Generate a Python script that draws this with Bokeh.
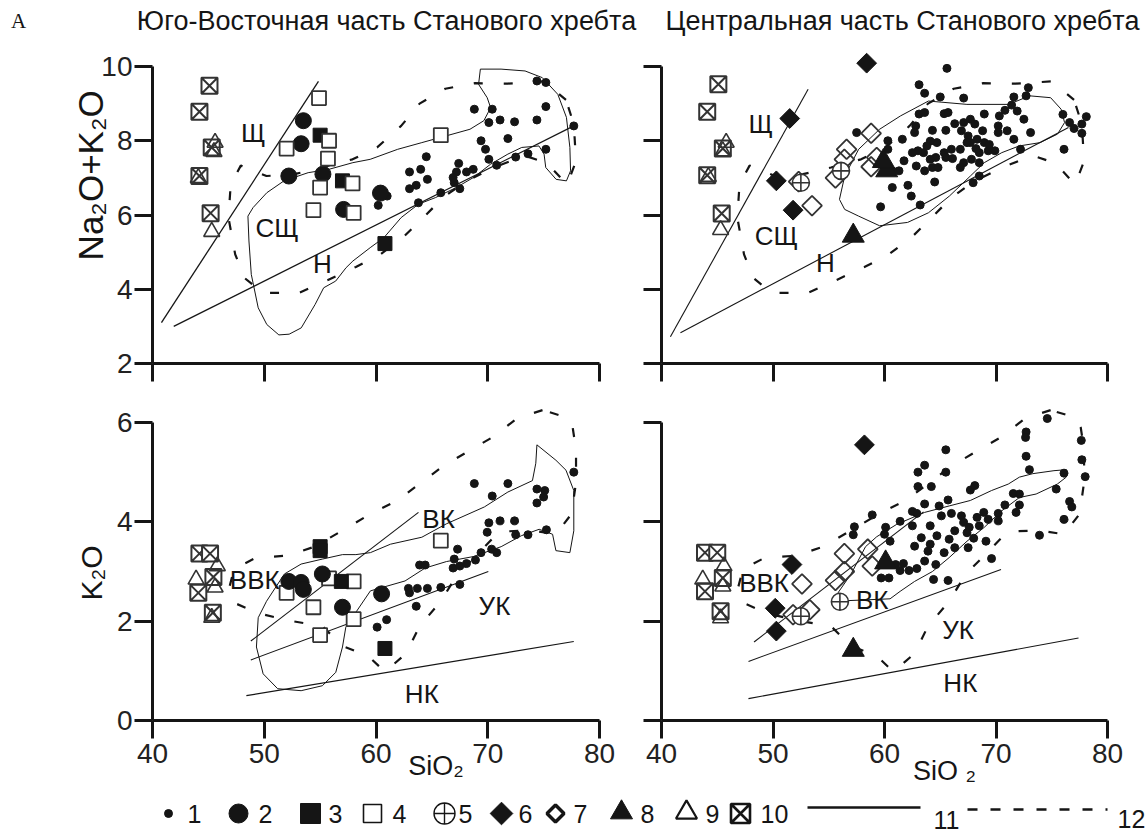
import math
from bokeh.plotting import figure
from bokeh.layouts import column, row
from bokeh.models import FixedTicker, Range1d
from bokeh.embed import file_html
from bokeh.resources import INLINE
from bokeh.core.properties import value

# ---------------- DATA ----------------
TITLE_L = "Юго-Восточная часть Станового хребта"
TITLE_R = "Центральная часть Станового хребта"
Y_LABEL_TOP = "Na₂O+K₂O"
Y_LABEL_BOT = "K₂O"
X_LABEL_L = "SiO₂"
X_LABEL_R = "SiO ₂"
X_TICKS = [40, 50, 60, 70, 80]
Y_TICKS_TOP = [2, 4, 6, 8, 10]
Y_TICKS_BOT = [0, 2, 4, 6]
LEGEND_LABELS = ["1", "2", "3", "4", "5", "6", "7", "8", "9", "10", "11", "12"]

# top-left: SiO2 vs Na2O+K2O
TL_S1 = [(68.8, 8.85), (70.4, 8.85), (70.1, 8.49), (71.1, 8.56), (72.4, 8.51), (74.4, 8.56), (74.4, 9.61),
         (75.2, 9.57), (75.2, 8.92), (77.7, 8.4), (71.8, 8.06), (69.4, 8.0), (69.8, 7.77), (70.1, 7.5),
         (70.8, 7.34), (72.5, 7.56), (73.6, 7.65), (75.2, 7.77), (64.5, 7.57), (64.0, 7.23), (63.0, 7.16),
         (67.4, 7.39), (67.2, 7.16), (66.9, 7.01), (68.1, 7.16), (68.7, 7.23), (64.6, 6.96), (63.6, 6.8),
         (63.0, 6.71), (67.0, 6.87), (67.5, 6.71), (65.8, 6.6), (63.8, 6.33), (60.2, 6.26), (61.0, 6.51)]
TL_S2 = [(53.5, 8.54), (53.3, 7.92), (52.2, 7.05), (55.25, 7.1), (57.1, 6.15), (60.4, 6.59)]
TL_S3 = [(55.0, 8.15), (57.0, 6.92), (60.8, 5.23)]
TL_S4 = [(54.9, 9.15), (52.0, 7.79), (55.8, 8.0), (55.7, 7.52), (57.9, 6.85), (55.0, 6.74), (54.4, 6.13),
         (58.0, 6.06), (65.8, 8.15)]
TL_S9 = [(45.6, 7.95), (45.5, 7.7), (44.1, 7.0), (45.3, 5.55)]
TL_S10 = [(45.1, 9.48), (44.2, 8.78), (45.3, 7.82), (44.2, 7.05), (45.2, 6.05)]

# top-right
TR_S1 = [(65.6, 9.95), (63.1, 9.51), (63.6, 9.28), (72.9, 9.43), (72.7, 9.21), (65.0, 9.18), (67.1, 9.15),
         (71.6, 9.18), (71.4, 8.96), (71.9, 8.8), (70.8, 8.82), (70.3, 8.67), (72.5, 8.58), (76.0, 8.71),
         (76.6, 8.49), (77.0, 8.33), (77.7, 8.45), (78.1, 8.65), (77.7, 8.2), (76.1, 7.77), (73.1, 8.22),
         (72.2, 7.77), (71.6, 8.04), (63.1, 8.72), (63.6, 8.76), (65.35, 8.73), (65.7, 8.76), (66.3, 8.46),
         (67.1, 8.49), (67.7, 8.58), (68.1, 8.45), (68.8, 8.27), (70.2, 8.4), (70.2, 8.22), (68.95, 8.72),
         (62.8, 8.4), (64.3, 8.28), (65.5, 8.28), (66.9, 8.27), (67.5, 8.13), (67.7, 7.95), (68.3, 8.04),
         (68.95, 7.95), (69.3, 7.73), (69.9, 7.73), (68.5, 7.68), (67.8, 7.5), (66.8, 7.77), (66.0, 7.77),
         (65.35, 7.68), (65.5, 7.55), (66.1, 7.52), (67.1, 7.41), (66.8, 7.28), (68.5, 7.41), (64.7, 7.95),
         (64.1, 7.99), (63.8, 7.86), (63.5, 7.68), (63.0, 7.73), (62.5, 7.68), (62.85, 7.32), (63.6, 7.19),
         (64.3, 7.28), (64.8, 7.28), (64.6, 7.55), (64.1, 7.5), (61.75, 7.46), (61.3, 7.19), (60.7, 7.19),
         (60.3, 8.0), (61.6, 8.04), (60.3, 7.77), (62.7, 8.22), (57.5, 8.22), (60.7, 6.74), (62.1, 6.8),
         (62.4, 6.51), (63.2, 6.27), (59.65, 6.22), (64.5, 6.89), (67.95, 6.87), (68.5, 7.05), (68.2, 7.79),
         (67.4, 7.95), (69.4, 7.9), (71.0, 8.27)]
TR_S5 = [(52.5, 6.87), (56.1, 7.19)]
TR_S6 = [(58.4, 10.09), (51.5, 8.6), (50.3, 6.92), (51.8, 6.13)]
TR_S7 = [(58.8, 8.2), (56.6, 7.77), (56.4, 7.5), (55.6, 7.0), (53.5, 6.25), (58.8, 7.3), (52.3, 6.9), (59.3, 7.55)]
TR_S8 = [(60.2, 7.2), (59.9, 7.45), (57.2, 5.44)]
TR_S9 = [(45.8, 7.95), (45.5, 7.72), (44.2, 7.03), (45.3, 5.6)]
TR_S10 = [(45.1, 9.52), (44.1, 8.78), (45.5, 7.79), (44.1, 7.07), (45.4, 6.04)]

# bottom-left: SiO2 vs K2O
BL_S1 = [(68.8, 4.77), (71.8, 4.77), (70.4, 4.52), (74.4, 4.66), (75.1, 4.63), (75.0, 4.5), (74.4, 4.38),
         (77.7, 5.0), (70.1, 3.98), (71.1, 4.02), (72.4, 4.02), (69.95, 3.79), (72.5, 3.74), (73.6, 3.74),
         (75.25, 3.84), (67.3, 3.45), (67.0, 3.25), (66.9, 3.07), (67.5, 3.11), (68.1, 3.16), (68.9, 3.23),
         (69.4, 3.38), (70.35, 3.45), (70.8, 3.38), (63.9, 3.13), (64.4, 3.13), (62.9, 2.66), (63.7, 2.66),
         (64.6, 2.66), (63.0, 2.57), (65.8, 2.68), (67.5, 2.74), (63.6, 2.3), (60.1, 1.88), (60.95, 2.03)]
BL_S2 = [(52.2, 2.8), (53.3, 2.78), (53.5, 2.64), (55.2, 2.95), (57.0, 2.28), (60.5, 2.55)]
BL_S3 = [(55.0, 3.5), (55.0, 3.42), (56.9, 2.8), (60.8, 1.45)]
BL_S4 = [(55.8, 2.86), (58.0, 2.8), (52.0, 2.57), (54.4, 2.28), (58.0, 2.04), (55.0, 1.72), (65.8, 3.62)]
BL_S9 = [(45.8, 3.11), (43.9, 2.84), (45.6, 2.68), (45.3, 2.07)]
BL_S10 = [(44.2, 3.36), (45.15, 3.36), (45.45, 2.89), (44.1, 2.57), (45.4, 2.17)]

# bottom-right
BR_S1 = [(65.5, 5.45), (74.6, 6.08), (72.7, 5.81), (72.65, 5.7), (72.7, 5.32), (73.0, 5.05), (77.65, 5.64),
         (77.7, 5.25), (78.0, 4.91), (76.1, 4.98), (75.4, 4.66), (76.6, 4.41), (76.8, 4.3), (76.1, 4.05),
         (73.9, 3.73), (63.6, 5.14), (63.0, 5.0), (65.5, 5.0), (63.0, 4.71), (64.2, 4.71), (67.7, 4.64),
         (68.1, 4.73), (63.6, 4.36), (65.7, 4.44), (64.9, 4.32), (62.5, 4.21), (62.9, 4.17), (58.9, 4.14),
         (61.4, 4.01), (60.1, 3.89), (57.3, 3.9), (57.2, 3.74), (60.0, 3.75), (60.5, 3.61), (62.5, 3.92),
         (64.1, 3.92), (65.1, 4.12), (66.0, 4.17), (66.9, 4.12), (67.1, 3.99), (67.6, 3.89), (68.3, 4.09),
         (68.9, 4.19), (69.3, 4.05), (70.2, 4.17), (70.8, 4.34), (71.55, 4.57), (72.1, 4.56), (72.1, 4.34),
         (71.8, 4.19), (70.2, 4.02), (68.5, 3.92), (67.4, 3.78), (68.0, 3.67), (69.1, 3.61), (66.3, 3.82),
         (65.8, 3.65), (66.3, 3.48), (67.5, 3.48), (64.7, 3.72), (64.1, 3.55), (63.3, 3.68), (62.7, 3.51),
         (63.9, 3.41), (65.35, 3.38), (64.6, 3.14), (63.6, 3.21), (62.9, 3.06), (61.7, 3.16), (62.2, 3.02),
         (61.0, 3.14), (61.4, 3.02), (59.7, 2.87), (60.4, 2.87), (64.4, 2.84), (65.7, 2.82), (69.6, 3.26)]
BR_S5 = [(52.5, 2.1), (56.0, 2.39)]
BR_S6 = [(58.2, 5.55), (51.7, 3.14), (50.2, 2.26), (50.3, 1.8)]
BR_S7 = [(52.6, 2.75), (53.3, 2.23), (51.8, 2.13), (56.4, 3.36), (55.6, 2.82), (56.4, 3.0), (58.5, 3.45), (58.9, 3.11)]
BR_S8 = [(60.1, 3.18), (57.2, 1.42)]
BR_S9 = [(45.6, 3.11), (43.7, 2.84), (45.5, 2.7), (45.3, 2.06)]
BR_S10 = [(43.9, 3.38), (45.0, 3.38), (45.5, 2.87), (43.9, 2.6), (45.3, 2.2)]

# classification lines (11)
TL_LINES = [[(40.8, 3.1), (54.85, 9.6)], [(41.9, 3.0), (77.7, 8.4)]]
TR_LINES = [[(40.8, 2.72), (53.15, 9.39)], [(41.7, 2.83), (76.5, 8.36)]]
BL_LINES = [[(48.8, 1.6), (63.8, 4.19)], [(48.8, 1.22), (70.05, 3.0)], [(48.4, 0.5), (77.7, 1.59)]]
BR_LINES = [[(48.3, 1.58), (63.5, 4.2)], [(47.8, 1.19), (70.45, 3.04)], [(47.8, 0.44), (77.4, 1.66)]]

# field outlines: solid (11) and dashed (12)
TL_FIELD = [(48.54, 5.97), (48.63, 5.3), (48.84, 4.4), (49.46, 3.5), (50.23, 3.05), (51.31, 2.77), (52.23, 2.79),
            (53.31, 2.96), (54.55, 3.59), (55.32, 4.04), (56.39, 4.22), (57.32, 4.58), (57.93, 4.76), (59.48, 5.12),
            (60.71, 5.39), (62.25, 5.93), (63.79, 6.29), (65.33, 6.47), (67.18, 6.74), (68.72, 7.01), (70.26, 7.37),
            (71.8, 7.64), (73.04, 7.82), (74.58, 7.86), (75.04, 7.64), (75.19, 7.28), (76.12, 6.96), (77.04, 6.92),
            (77.41, 7.19), (77.35, 7.82), (77.04, 8.63), (76.27, 9.25), (74.88, 9.7), (73.34, 9.88), (71.19, 9.93),
            (69.34, 9.93), (69.18, 9.52), (69.95, 9.16), (70.26, 8.89), (69.65, 8.54), (68.41, 8.31), (66.26, 8.13),
            (64.1, 7.95), (61.94, 7.77), (59.48, 7.5), (57.93, 7.41), (55.78, 7.23), (53.93, 7.14), (51.77, 6.92),
            (50.23, 6.6), (49.0, 6.2)]
TR_FIELD = [(55.96, 6.42), (56.43, 7.05), (57.68, 7.77), (59.56, 8.31), (61.44, 8.67), (63.94, 9.07), (67.39, 8.98),
            (71.14, 8.98), (73.02, 9.21), (74.9, 9.16), (75.84, 8.85), (76.15, 8.49), (75.52, 8.18), (73.96, 7.95),
            (72.08, 7.86), (70.52, 7.68), (68.95, 7.41), (67.7, 7.05), (65.82, 6.51), (63.94, 6.06), (62.07, 5.8),
            (59.56, 5.71), (57.68, 5.97), (56.43, 6.15)]
TOP_ENVELOPE = [(77.0, 9.1), (75.0, 9.6), (71.8, 9.54), (68.8, 9.55), (66.2, 9.4), (63.9, 9.0), (62.25, 8.4),
                (60.1, 7.82), (57.9, 7.5), (55.2, 7.28), (52.7, 7.1), (50.2, 7.05), (47.9, 7.33), (47.0, 6.83),
                (46.8, 5.93), (47.4, 4.94), (48.25, 4.3), (49.9, 3.9), (53.1, 3.9), (55.7, 4.25), (58.2, 4.6),
                (60.3, 4.92), (62.5, 5.42), (64.4, 5.98), (66.0, 6.47), (68.0, 6.9), (70.7, 7.3), (73.3, 7.6),
                (75.3, 7.4), (77.1, 6.82), (77.9, 7.45), (77.7, 8.45)]
BL_FIELD = [(49.46, 2.07), (49.3, 1.48), (49.9, 0.94), (51.2, 0.64), (53.3, 0.6), (55.2, 0.7), (56.4, 0.97),
            (57.0, 1.48), (57.3, 1.88), (57.9, 2.08), (59.5, 2.61), (62.6, 2.81), (64.4, 3.07), (66.3, 3.2),
            (68.7, 3.3), (71.2, 3.5), (73.0, 3.72), (74.6, 3.85), (75.8, 3.75), (76.1, 3.42), (77.35, 3.38),
            (77.7, 3.82), (77.7, 4.63), (77.0, 5.04), (76.1, 5.24), (74.4, 5.55), (74.3, 5.18), (74.0, 4.83),
            (71.8, 4.6), (69.7, 4.3), (66.3, 3.96), (64.1, 3.69), (61.3, 3.55), (59.5, 3.38), (58.2, 3.34),
            (57.0, 3.34), (55.2, 3.25), (53.3, 3.15), (51.8, 2.95), (50.2, 2.4)]
BR_FIELD = [(55.3, 2.4), (57.0, 2.95), (58.3, 3.5), (59.3, 3.7), (61.1, 3.95), (63.6, 4.19), (65.8, 4.32),
            (67.7, 4.43), (69.6, 4.63), (71.1, 4.76), (72.1, 4.9), (73.3, 4.97), (75.2, 5.03), (76.3, 5.05),
            (76.3, 4.9), (75.5, 4.76), (73.6, 4.56), (72.1, 4.49), (70.5, 4.22), (68.95, 3.89), (67.4, 3.61),
            (65.8, 3.28), (64.3, 3.0), (62.7, 2.8), (61.4, 2.6), (60.5, 2.45)]
BOT_ENVELOPE = [(74.9, 6.25), (72.6, 6.08), (70.4, 5.7), (68.1, 5.4), (66.0, 5.12), (64.1, 4.8), (61.9, 4.43),
                (59.5, 4.16), (57.1, 3.84), (54.5, 3.5), (52.1, 3.32), (49.2, 3.27), (47.3, 3.05), (46.9, 2.7),
                (47.3, 2.37), (49.6, 2.15), (52.5, 2.0), (55.2, 1.9), (57.0, 1.5), (59.3, 1.3), (60.8, 0.98),
                (62.7, 1.35), (63.9, 1.9), (65.8, 2.4), (67.3, 2.95), (69.3, 3.4), (71.0, 3.8), (73.8, 3.83),
                (76.1, 3.75), (77.5, 4.16), (77.9, 4.8), (77.9, 5.45), (77.6, 5.9), (77.1, 6.1)]

# zone labels
TL_ZONES = ["Щ", "СЩ", "Н"]
TL_ZONE_POS = [(49.0, 8.2), (51.15, 5.66), (55.2, 4.67)]
TR_ZONES = ["Щ", "СЩ", "Н"]
TR_ZONE_POS = [(48.9, 8.45), (50.3, 5.44), (54.7, 4.72)]
BL_ZONES = ["ВК", "ВВК", "УК", "НК"]
BL_ZONE_POS = [(65.6, 4.06), (49.15, 2.82), (70.6, 2.31), (64.1, 0.54)]
BR_ZONES = ["ВВК", "ВК", "УК", "НК"]
BR_ZONE_POS = [(49.2, 2.77), (58.9, 2.43), (66.6, 1.82), (66.8, 0.76)]

# ---------------- STYLE / HELPERS ----------------
FONT = "Liberation Sans"
INK = "#151515"
GREY = "#333333"
DIAM = math.pi / 4
NB = "\u00a0"


def xs(pts):
    return [p[0] for p in pts]


def ys(pts):
    return [p[1] for p in pts]


def make_panel(w, h, y_rng, y_bounds, y_ticks, bl, br, bt, bb, show_x, show_y):
    p = figure(width=w, height=h, x_range=Range1d(40, 80), y_range=Range1d(*y_rng),
               output_backend="svg", toolbar_location=None,
               min_border_left=bl, min_border_right=br, min_border_top=bt, min_border_bottom=bb)
    p.grid.visible = False
    p.outline_line_color = None
    for ax in (p.xaxis[0], p.yaxis[0]):
        ax.axis_line_width = 3
        ax.axis_line_color = INK
        ax.major_tick_line_width = 3
        ax.major_tick_line_color = INK
        ax.major_tick_out = 18
        ax.major_tick_in = 0
        ax.minor_tick_line_color = None
        ax.major_label_text_font = FONT
        ax.major_label_text_font_size = "28px"
        ax.major_label_text_color = "#222222"
        ax.axis_label_text_font = FONT
        ax.axis_label_text_font_style = "normal"
        ax.axis_label_text_color = INK
    p.xaxis[0].ticker = FixedTicker(ticks=X_TICKS)
    p.yaxis[0].ticker = FixedTicker(ticks=y_ticks)
    p.yaxis[0].bounds = y_bounds
    p.yaxis[0].major_label_standoff = 2
    if not show_x:
        p.xaxis[0].major_label_text_color = None
        p.xaxis[0].major_label_text_font_size = "1px"
    if not show_y:
        p.yaxis[0].major_label_text_color = None
        p.yaxis[0].major_label_text_font_size = "1px"
    return p


def draw_lines(p, lines, lw):
    for ln in lines:
        p.line(xs(ln), ys(ln), line_color=INK, line_width=lw)


def draw_outline(p, pts, dashed):
    closed = pts + [pts[0]]
    if dashed:
        p.line(xs(closed), ys(closed), line_color=INK, line_width=2.2, line_dash="9 21")
    else:
        p.line(xs(closed), ys(closed), line_color=INK, line_width=1.0)


def draw_zones(p, names, pos):
    p.text(x=xs(pos), y=ys(pos), text=names, text_font=value(FONT), text_font_size=value("26px"),
           text_align="center", text_baseline="middle", text_color=INK)


def m1(p, pts):
    p.scatter(xs(pts), ys(pts), marker="circle", size=8, fill_color=INK, line_color=INK)


def m2(p, pts):
    p.scatter(xs(pts), ys(pts), marker="circle", size=16, fill_color=INK, line_color=INK)


def m3(p, pts):
    p.scatter(xs(pts), ys(pts), marker="square", size=14, fill_color=INK, line_color=INK)


def m4(p, pts):
    p.scatter(xs(pts), ys(pts), marker="square", size=14, fill_color="white", line_color=GREY, line_width=1.8)


def m5(p, pts):
    p.scatter(xs(pts), ys(pts), marker="circle_cross", size=17, fill_color="white", line_color=GREY, line_width=1.6)


def m6(p, pts):
    p.scatter(xs(pts), ys(pts), marker="square", angle=DIAM, size=14, fill_color=INK, line_color=INK)


def m7(p, pts):
    p.scatter(xs(pts), ys(pts), marker="square", angle=DIAM, size=14, fill_color=None, line_color=GREY, line_width=1.8)


def m8(p, pts):
    p.scatter(xs(pts), ys(pts), marker="triangle", size=22, fill_color=INK, line_color=INK)


def m9(p, pts):
    p.scatter(xs(pts), ys(pts), marker="triangle", size=16, fill_color=None, line_color=GREY, line_width=1.6)


def m10(p, pts):
    p.scatter(xs(pts), ys(pts), marker="square_x", size=16, fill_color="white", line_color=GREY, line_width=2.0)


# ---------------- LAYOUT ----------------
LW, RW = 620, 528
TOP_H, BOT_H = 355, 395

tl = make_panel(LW, TOP_H, (2, 10.566), (2, 10), Y_TICKS_TOP, 152, 21, 5, 32, False, True)
tr = make_panel(RW, TOP_H, (2, 10.566), (2, 10), Y_TICKS_TOP, 41, 41, 5, 32, False, False)
bl = make_panel(LW, BOT_H, (0, 6.443), (0, 6), Y_TICKS_BOT, 152, 21, 5, 70, True, True)
br = make_panel(RW, BOT_H, (0, 6.443), (0, 6), Y_TICKS_BOT, 41, 41, 5, 70, True, False)

# axis titles (padded with no-break spaces to shift them along their axes)
tl.yaxis[0].axis_label = NB * 6 + Y_LABEL_TOP
tl.yaxis[0].axis_label_text_font_size = "35px"
tl.yaxis[0].axis_label_standoff = -12
bl.yaxis[0].axis_label = Y_LABEL_BOT + NB * 3
bl.yaxis[0].axis_label_text_font_size = "30px"
bl.yaxis[0].axis_label_standoff = 6
bl.xaxis[0].axis_label = NB * 16 + X_LABEL_L
bl.xaxis[0].axis_label_text_font_size = "27px"
bl.xaxis[0].axis_label_standoff = -15
br.xaxis[0].axis_label = NB * 16 + X_LABEL_R
br.xaxis[0].axis_label_text_font_size = "27px"
br.xaxis[0].axis_label_standoff = -10

# top-left
draw_outline(tl, TOP_ENVELOPE, True)
draw_outline(tl, TL_FIELD, False)
draw_lines(tl, TL_LINES, 1.3)
draw_zones(tl, TL_ZONES, TL_ZONE_POS)
m1(tl, TL_S1); m2(tl, TL_S2); m3(tl, TL_S3); m4(tl, TL_S4); m10(tl, TL_S10); m9(tl, TL_S9)

# top-right
draw_outline(tr, TOP_ENVELOPE, True)
draw_outline(tr, TR_FIELD, False)
draw_lines(tr, TR_LINES, 1.1)
draw_zones(tr, TR_ZONES, TR_ZONE_POS)
m1(tr, TR_S1); m7(tr, TR_S7); m5(tr, TR_S5); m6(tr, TR_S6); m8(tr, TR_S8); m10(tr, TR_S10); m9(tr, TR_S9)

# bottom-left
draw_outline(bl, BOT_ENVELOPE, True)
draw_outline(bl, BL_FIELD, False)
draw_lines(bl, BL_LINES, 1.1)
draw_zones(bl, BL_ZONES, BL_ZONE_POS)
m1(bl, BL_S1); m4(bl, BL_S4); m2(bl, BL_S2); m3(bl, BL_S3); m10(bl, BL_S10); m9(bl, BL_S9)

# bottom-right
draw_outline(br, BOT_ENVELOPE, True)
draw_outline(br, BR_FIELD, False)
draw_lines(br, BR_LINES, 1.1)
draw_zones(br, BR_ZONES, BR_ZONE_POS)
m1(br, BR_S1); m7(br, BR_S7); m5(br, BR_S5); m6(br, BR_S6); m8(br, BR_S8); m10(br, BR_S10); m9(br, BR_S9)

# header
hdr = figure(width=1148, height=40, x_range=Range1d(0, 1148), y_range=Range1d(40, 0),
             output_backend="svg", toolbar_location=None, min_border=0,
             x_axis_location=None, y_axis_location=None)
hdr.grid.visible = False
hdr.outline_line_color = None
hdr.text(x=[18], y=[20], text=["A"], text_font=value("Liberation Serif"), text_font_size=value("21px"),
         text_align="center", text_baseline="middle", text_color=INK)
hdr.text(x=[386, 902], y=[20, 20], text=[TITLE_L, TITLE_R], text_font=value(FONT),
         text_font_size=value("27px"), text_align="center", text_baseline="middle", text_color=INK)

# legend strip
leg = figure(width=1148, height=42, x_range=Range1d(0, 1148), y_range=Range1d(42, 0),
             output_backend="svg", toolbar_location=None, min_border=0,
             x_axis_location=None, y_axis_location=None)
leg.grid.visible = False
leg.outline_line_color = None
LY = 23
leg.scatter([168], [LY], marker="circle", size=8, fill_color=INK, line_color=INK)
leg.scatter([238], [LY], marker="circle", size=19, fill_color=INK, line_color=INK)
leg.scatter([310], [LY], marker="square", size=20, fill_color=INK, line_color=INK)
leg.scatter([372], [LY], marker="square", size=18, fill_color="white", line_color=INK, line_width=1.6)
leg.scatter([444], [LY], marker="circle_cross", size=21, fill_color="white", line_color=INK, line_width=1.4)
leg.scatter([501], [LY], marker="square", angle=DIAM, size=16, fill_color=INK, line_color=INK)
leg.scatter([555], [LY], marker="square", angle=DIAM, size=12, fill_color="white", line_color=INK, line_width=3.5)
leg.scatter([621], [LY - 1], marker="triangle", size=22, fill_color=INK, line_color=INK)
leg.scatter([686], [LY - 1], marker="triangle", size=21, fill_color=None, line_color=INK, line_width=2.2)
leg.scatter([740], [LY], marker="square_x", size=19, fill_color="white", line_color=INK, line_width=2.6)
leg.text(x=[187, 258, 328, 392, 458, 518, 573, 640, 705, 760], y=[LY] * 10, text=LEGEND_LABELS[:10],
         text_font=value(FONT), text_font_size=value("25px"), text_align="left", text_baseline="middle",
         text_color=INK)
leg.line([807, 920], [17, 17], line_color=INK, line_width=2.5)
leg.line([967, 1107], [19, 19], line_color=INK, line_width=2.5, line_dash="10 13")
leg.text(x=[933, 1117], y=[29, 28], text=LEGEND_LABELS[10:], text_font=value(FONT),
         text_font_size=value("25px"), text_align="left", text_baseline="middle", text_color=INK)

layout = column(hdr, row(tl, tr), row(bl, br), leg)
open("out.html", "w").write(file_html(layout, INLINE))
